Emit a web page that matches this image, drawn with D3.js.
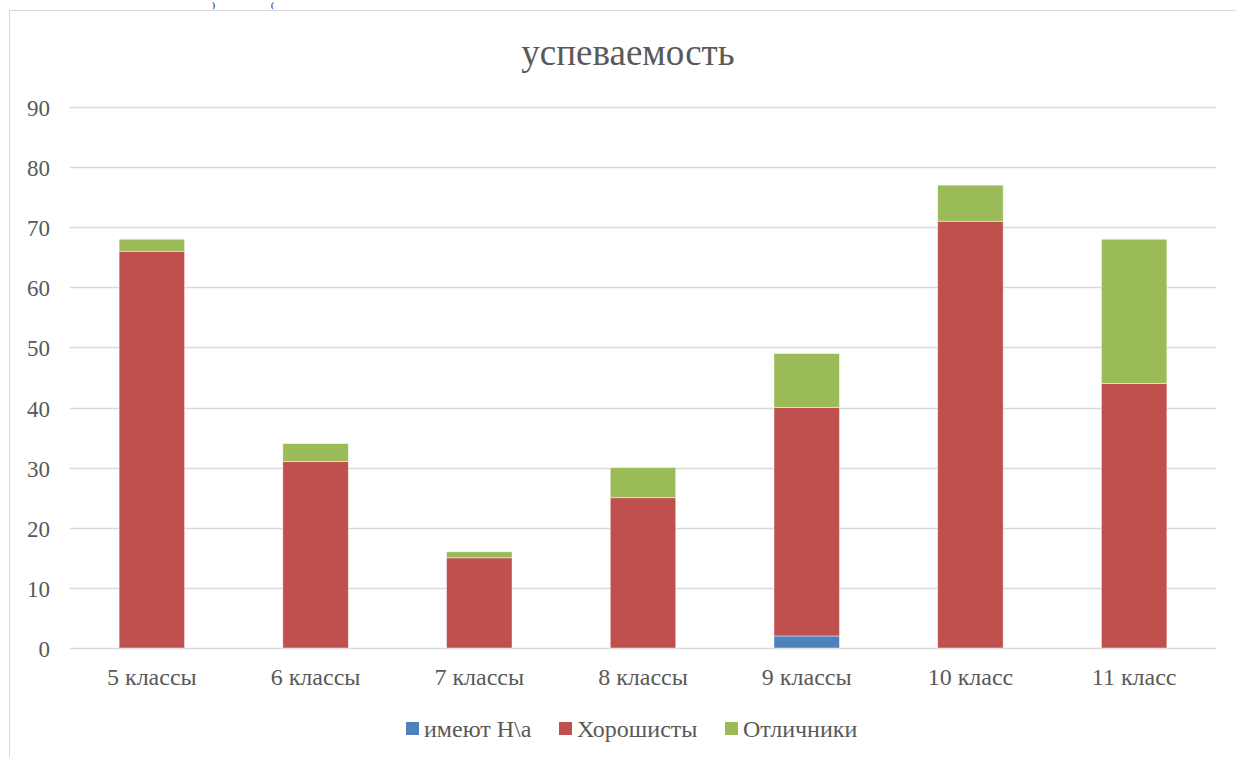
<!DOCTYPE html>
<html>
<head>
<meta charset="utf-8">
<script src="https://cdn.jsdelivr.net/npm/d3@7"></script>
<style>
  body { margin: 0; background: #fff; }
  svg { display: block; }
</style>
</head>
<body>
<svg id="chart" width="1236" height="757"></svg>
<script>
// ---- data ----
const categories = ["5 классы", "6 классы", "7 классы", "8 классы", "9 классы", "10 класс", "11 класс"];
const absent = [0, 0, 0, 0, 2, 0, 0];      // имеют Н\а
const good = [66, 31, 15, 25, 38, 71, 44];  // Хорошисты
const excellent = [2, 3, 1, 5, 9, 6, 24];   // Отличники
const seriesNames = ["имеют Н\\а", "Хорошисты", "Отличники"];
const seriesColors = ["#4f81bd", "#c0504d", "#9bbb59"];
const yTicks = [0, 10, 20, 30, 40, 50, 60, 70, 80, 90];

const FONT = "'Liberation Serif', 'Times New Roman', serif";
const svg = d3.select("#chart");
const width = 1236, height = 757;
const margin = { top: 107, right: 20, bottom: 109, left: 70 };

// bits of the surrounding document text above the chart
svg.append("text").attr("x", 212).attr("y", 8).attr("fill", "#000")
  .style("font-family", FONT).style("font-size", "9px").text(")");
svg.append("text").attr("x", 271).attr("y", 8).attr("fill", "#000")
  .style("font-family", FONT).style("font-size", "9px").text("(");

// chart frame
svg.append("rect")
  .attr("x", 9.5).attr("y", 10.5)
  .attr("width", 1300).attr("height", 900)
  .attr("fill", "#fff")
  .attr("stroke", "#d9d9d9");

const rows = categories.map((c, i) => ({ cat: c, s0: absent[i], s1: good[i], s2: excellent[i] }));
const stack = d3.stack().keys(["s0", "s1", "s2"])(rows);

const x = d3.scaleBand()
  .domain(categories)
  .range([margin.left, width - margin.right])
  .paddingInner(0.6)
  .paddingOuter(0.3);

const y = d3.scaleLinear()
  .domain([0, 90])
  .range([height - margin.bottom, margin.top]);

// gridlines
svg.append("g")
  .selectAll("line")
  .data(yTicks)
  .enter()
  .append("line")
  .attr("x1", margin.left)
  .attr("x2", width - margin.right)
  .attr("y1", d => Math.round(y(d)) + 0.5)
  .attr("y2", d => Math.round(y(d)) + 0.5)
  .attr("stroke", "#d9d9d9")
  .attr("stroke-width", 1.5);

// y labels
svg.append("g")
  .selectAll("text")
  .data(yTicks)
  .enter()
  .append("text")
  .attr("x", 50)
  .attr("y", d => y(d) + 9)
  .attr("text-anchor", "end")
  .attr("fill", "#595959")
  .style("font-family", FONT)
  .style("font-size", "23px")
  .text(d => d);

// bars
svg.append("g")
  .selectAll("g")
  .data(stack)
  .enter()
  .append("g")
  .attr("fill", (d, i) => seriesColors[i])
  .selectAll("rect")
  .data(d => d.filter(p => p[1] - p[0] > 0))
  .enter()
  .append("rect")
  .attr("x", d => x(d.data.cat))
  .attr("y", d => y(d[1]))
  .attr("width", x.bandwidth())
  .attr("height", d => y(d[0]) - y(d[1]))
  .attr("stroke", "#fff")
  .attr("stroke-opacity", 0.6)
  .attr("stroke-width", 0.75);

// category labels
svg.append("g")
  .selectAll("text")
  .data(categories)
  .enter()
  .append("text")
  .attr("x", d => x(d) + x.bandwidth() / 2)
  .attr("y", 685)
  .attr("text-anchor", "middle")
  .attr("fill", "#595959")
  .style("font-family", FONT)
  .style("font-size", "24px")
  .text(d => d);

// title
svg.append("text")
  .attr("x", 628)
  .attr("y", 65)
  .attr("text-anchor", "middle")
  .attr("fill", "#595959")
  .style("font-family", FONT)
  .style("font-size", "37px")
  .text("успеваемость");

// legend
const legendX = [406, 559, 725];
const legend = svg.append("g");
seriesNames.forEach((name, i) => {
  legend.append("rect")
    .attr("x", legendX[i]).attr("y", 722)
    .attr("width", 13).attr("height", 13)
    .attr("fill", seriesColors[i]);
  legend.append("text")
    .attr("x", legendX[i] + 18)
    .attr("y", 737)
    .attr("fill", "#595959")
    .style("font-family", FONT)
    .style("font-size", "24px")
    .text(name);
});
</script>
</body>
</html>
